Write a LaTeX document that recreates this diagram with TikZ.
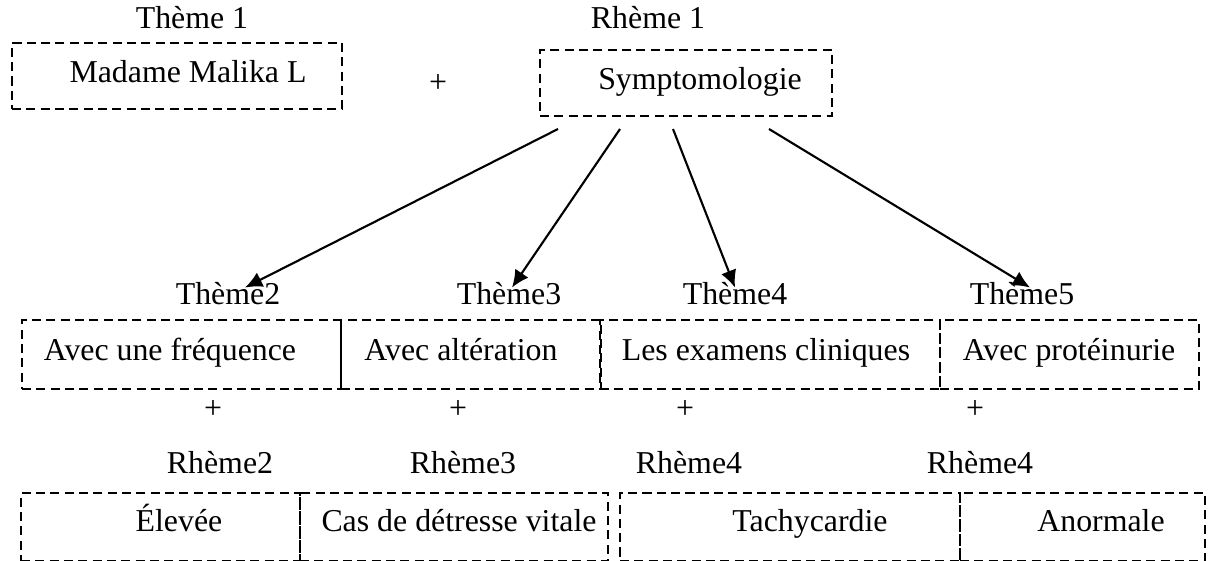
\documentclass[tikz,border=0pt]{standalone}
\usepackage{fontspec}
\setmainfont{Liberation Serif}
\usetikzlibrary{arrows.meta,calc}
\newcommand{\pxl}{0.013243cm}

\begin{document}
\begin{tikzpicture}[x=\pxl,y=-\pxl,>={Latex[length=6.5pt,width=6pt]},
		font=\fontsize{12pt}{14pt}\selectfont,
		dbox/.style 2 args={draw,line width=.9pt,dash pattern=on 3.4pt off 2pt,
			minimum width=#1*\pxl,minimum height=#2*\pxl,inner sep=0pt},
		txt/.style={inner sep=0pt,text height=.68em,text depth=.22em}]
		\useasboundingbox (0,0) rectangle (1208,560);
		% theme 1 + rheme 1
		\node [dbox={330}{66}] (b1) at (177,76) {};
		\node [txt] (madame) at (188,76) {Madame Malika L};
		\node [txt] (theme1) at (192,22) {Thème 1};
		\node [txt] (plus1) at (438,86) {+};
		\node [dbox={292}{66}] (b2) at (686,83) {};
		\node [txt] (symp) at (700,83) {Symptomologie};
		\node [txt] (rheme1) at (648,22) {Rhème 1};
		% themes
		\foreach \n/\x/\w in {m1/181.5/319,m2/471/260,m3/770/340,m4/1069.5/259}
		\node [dbox={\w}{69}] (\n) at (\x,354.5) {};
		\node [txt] (freq) at (170,354) {Avec une fréquence};
		\node [txt] (alter) at (461,354) {Avec altération};
		\node [txt] (exam) at (766,354) {Les examens cliniques};
		\node [txt] (prot) at (1069,354) {Avec protéinurie};
		\node [txt] (theme2) at (228,298) {Thème2};
		\node [txt] (theme3) at (509,298) {Thème3};
		\node [txt] (theme4) at (735,298) {Thème4};
		\node [txt] (theme5) at (1022,298) {Thème5};
		\foreach \n/\x in {p2/213,p3/458,p4/685,p5/975}
		\node [txt] (\n) at (\x,412) {+};
		% arrows from symptomologie
		\coordinate (s1) at (558,129);
		\coordinate (s2) at (620,129);
		\coordinate (s3) at (673,129);
		\coordinate (s4) at (769,129);
		\foreach \s/\t/\dx in {s1/theme2/17,s2/theme3/3,s3/theme4/0,s4/theme5/8}
		\draw [->,line width=.8pt] (\s) -- ($(\t.north)+(\dx,2)$);
		% rhemes
		\foreach \n/\x/\w in {r1/160.5/279,r2/454/308,r3/790/340,r4/1082.5/245}
		\node [dbox={\w}{68}] (\n) at (\x,527) {};
		\node [txt] (elev) at (179,525) {Élevée};
		\node [txt] (detr) at (459,525) {Cas de détresse vitale};
		\node [txt] (tachy) at (810,525) {Tachycardie};
		\node [txt] (anorm) at (1101,525) {Anormale};
		\node [txt] (rheme2) at (220,467) {Rhème2};
		\node [txt] (rheme3) at (463,467) {Rhème3};
		\node [txt] (rheme4) at (689,467) {Rhème4};
		\node [txt] (rheme4b) at (980,467) {Rhème4};
	\end{tikzpicture}
\end{document}
